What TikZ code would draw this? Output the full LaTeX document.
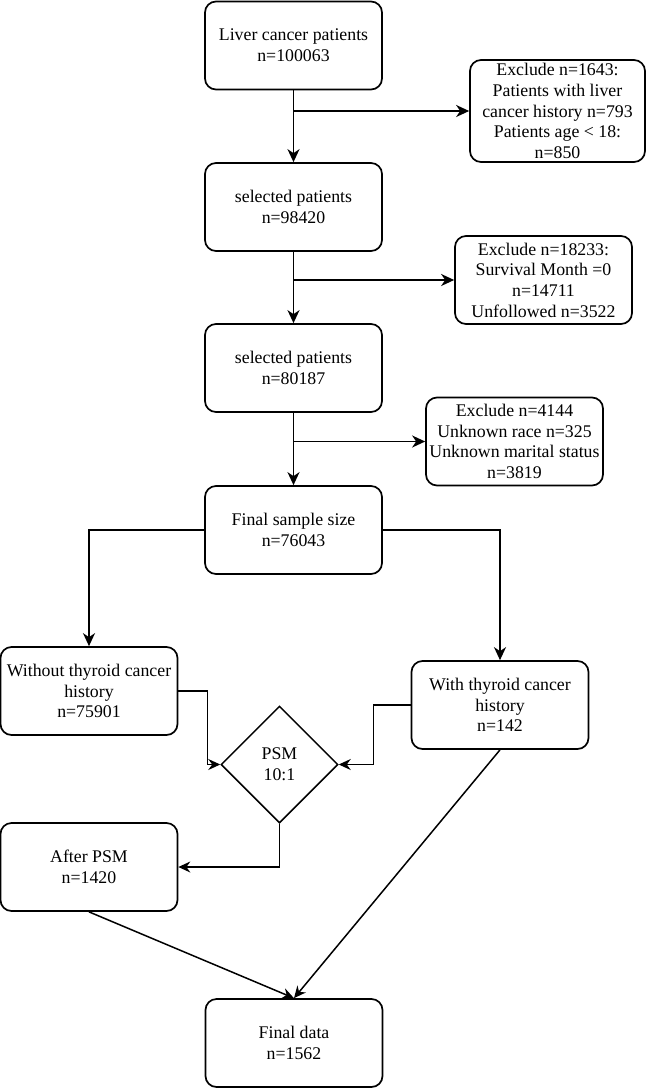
\documentclass[tikz,border=0pt]{standalone}
\usepackage{fontspec}
\setmainfont{Liberation Serif}
\usepackage{tikz}
\usetikzlibrary{calc,arrows.meta,shapes.geometric}

\begin{document}
\begin{tikzpicture}[x=1pt,y=-1pt,
    box/.style={draw,line width=1.7pt,rounded corners=11pt,align=center,
      minimum width=177pt,minimum height=88pt,inner sep=2pt,
      font=\fontsize{17.8}{20.7}\selectfont},
    psmbox/.style={draw,line width=1.5pt,diamond,aspect=1,align=center,
      minimum width=117pt,minimum height=117pt,inner sep=0pt,
      font=\fontsize{17.8}{20.7}\selectfont},
    link/.style={line width=1.9pt,-{Stealth[length=13pt,width=12pt,inset=4pt]}},
    thin link/.style={line width=1.5pt,-{Stealth[length=12pt,width=11pt,inset=4pt]}}]
    \useasboundingbox (0,0) rectangle (646,1088);

    \node[box] (liver) at (293.5,45.5) {Liver cancer patients\\n=100063};
    \node[box,minimum width=175pt,minimum height=102pt] (ex1) at (557.5,111)
      {Exclude n=1643:\\Patients with liver\\cancer history n=793\\Patients age < 18:\\n=850};
    \node[box] (sel1) at (293.5,207) {selected patients\\n=98420};
    \node[box] (ex2) at (543.5,280)
      {Exclude n=18233:\\Survival Month =0\\n=14711\\Unfollowed n=3522};
    \node[box] (sel2) at (293.5,368) {selected patients\\n=80187};
    \node[box] (ex3) at (514.5,441.5)
      {Exclude n=4144\\Unknown race n=325\\Unknown marital status\\n=3819};
    \node[box] (final) at (293.5,530) {Final sample size\\n=76043};
    \node[box] (without) at (89,691) {Without thyroid cancer\\history\\n=75901};
    \node[box] (with) at (500,705) {With thyroid cancer\\history\\n=142};
    \node[psmbox] (psm) at (279.5,764.5) {PSM\\10:1};
    \node[box] (after) at (89,867) {After PSM\\n=1420};
    \node[box] (data) at (294,1043) {Final data\\n=1562};

    \coordinate (j1) at (liver.south |- ex1.west);
    \coordinate (j2) at (sel1.south |- ex2.west);
    \coordinate (j3) at (sel2.south |- ex3.west);

    \draw[link] (liver) to (sel1);
    \draw[link] (j1) to (ex1.west);
    \draw[link] (sel1) to (sel2);
    \draw[link] (j2) to (ex2.west);
    \draw[link] (sel2) to (final);
    \draw[link] (j3) to (ex3.west);

    \draw[link] (final.west) -| (without.north);
    \draw[link] (final.east) -| (with.north);

    \draw[thin link] (without.east) -- ++(29,0) |- (psm.west);
    \draw[thin link] (with.west) -- ++(-37,0) |- (psm.east);
    \draw[thin link] (psm.south) |- (after.east);

    \draw[thin link] (after.south) -- (data.north);
    \draw[thin link] (with.south) -- (data.north);
  \end{tikzpicture}
\end{document}
